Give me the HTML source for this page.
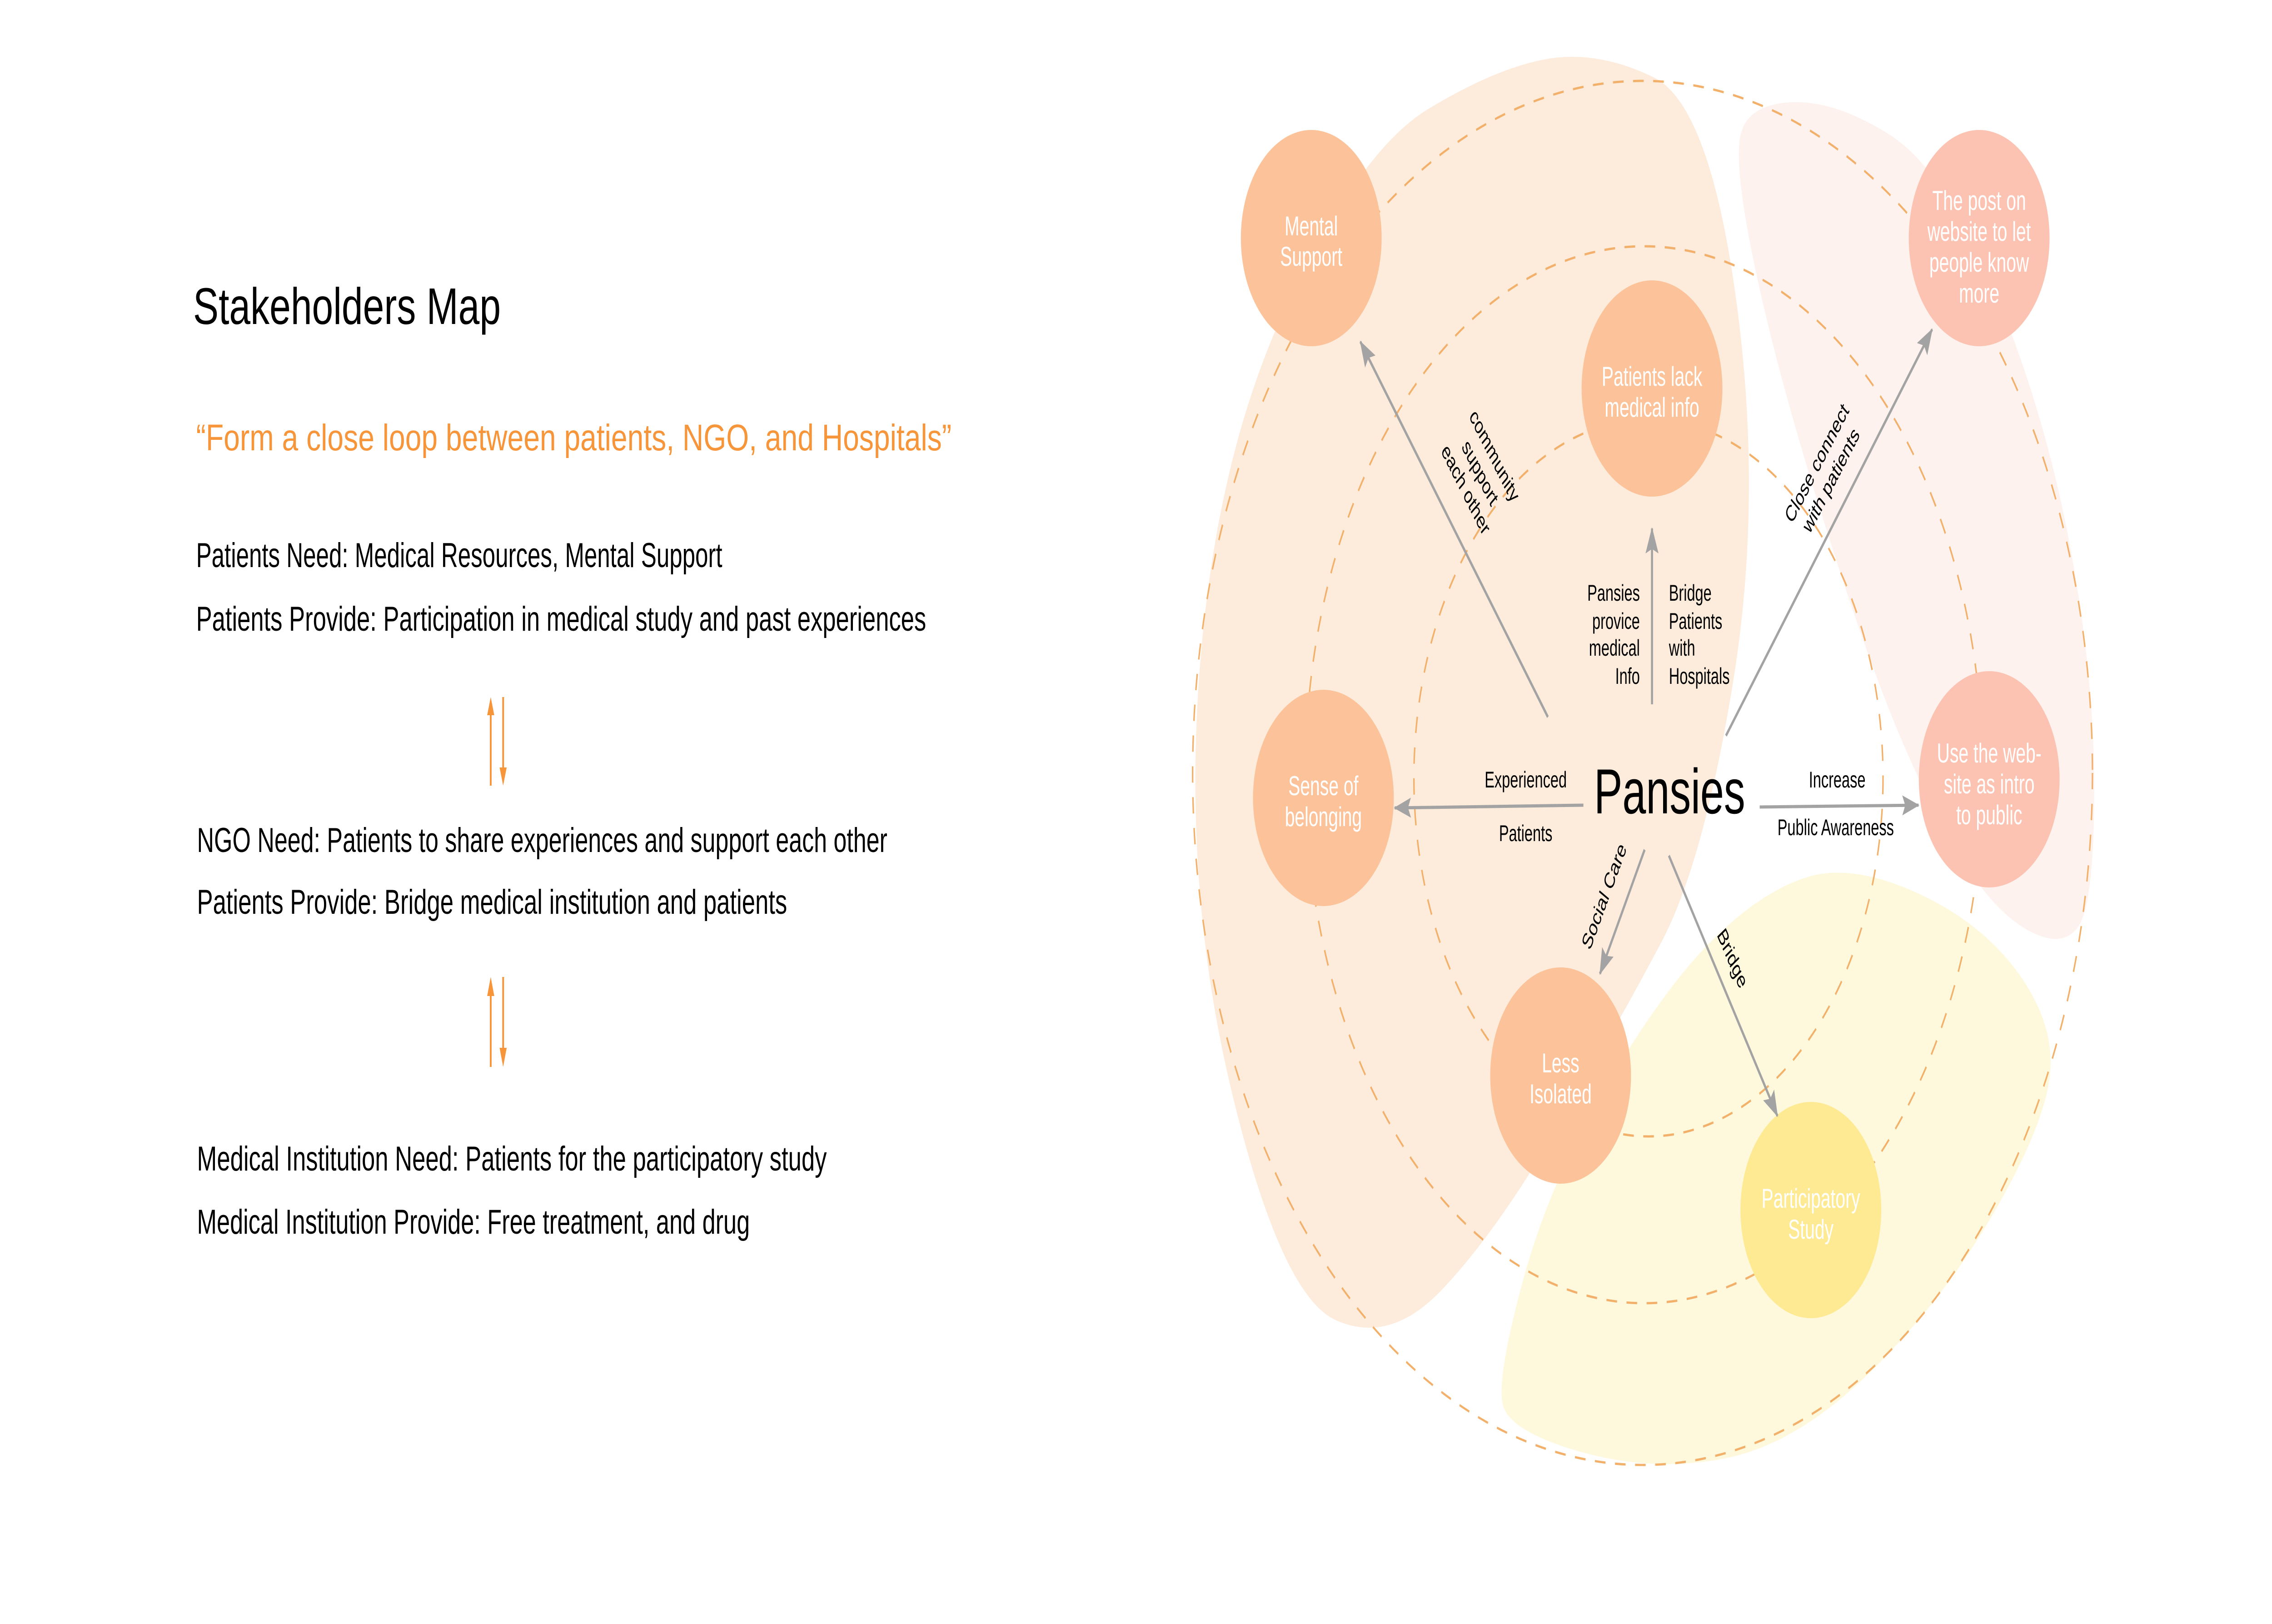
<!DOCTYPE html>
<html><head><meta charset="utf-8"><style>
html,body{margin:0;padding:0;background:#fff;overflow:hidden;width:100%;height:100%;}
svg{display:block;position:fixed;left:0;top:0;width:100vw;height:100vh;}
text{font-family:"Liberation Sans",sans-serif;}
</style></head><body>
<svg viewBox="0 0 7681 3574" preserveAspectRatio="none" xmlns="http://www.w3.org/2000/svg">
<defs>
<marker id="ga" markerUnits="userSpaceOnUse" markerWidth="60" markerHeight="50" refX="55" refY="22" orient="auto"><path d="M0,0 L58,22 L0,44 L10,22 Z" fill="#A3A3A3"/></marker>
</defs>
<rect width="7681" height="3574" fill="#fff"/>

<text x="653" y="713" font-size="113" fill="#000" textLength="1040" lengthAdjust="spacingAndGlyphs">Stakeholders Map</text>
<text x="663" y="991" font-size="82" fill="#F7953B" textLength="2554" lengthAdjust="spacingAndGlyphs">“Form a close loop between patients, NGO, and Hospitals”</text>
<g font-size="76" fill="#000">
<text x="663" y="1248" textLength="1779" lengthAdjust="spacingAndGlyphs">Patients Need: Medical Resources, Mental Support</text>
<text x="663" y="1388" textLength="2468" lengthAdjust="spacingAndGlyphs">Patients Provide: Participation in medical study and past experiences</text>
<text x="666" y="1875" textLength="2334" lengthAdjust="spacingAndGlyphs">NGO Need: Patients to share experiences and support each other</text>
<text x="666" y="2011" textLength="1995" lengthAdjust="spacingAndGlyphs">Patients Provide: Bridge medical institution and patients</text>
<text x="666" y="2576" textLength="2129" lengthAdjust="spacingAndGlyphs">Medical Institution Need: Patients for the participatory study</text>
<text x="666" y="2715" textLength="1869" lengthAdjust="spacingAndGlyphs">Medical Institution Provide: Free treatment, and drug</text>
</g>
<g stroke="#F7953B" stroke-width="6" fill="#F7953B">
<line x1="1659" y1="1729" x2="1659" y2="1570"/><path d="M1647,1574 L1659,1534 L1671,1574 Z" stroke="none"/>
<line x1="1701" y1="1534" x2="1701" y2="1693"/><path d="M1689,1689 L1701,1729 L1713,1689 Z" stroke="none"/>
<line x1="1659" y1="2348" x2="1659" y2="2188"/><path d="M1647,2192 L1659,2150 L1671,2192 Z" stroke="none"/>
<line x1="1701" y1="2150" x2="1701" y2="2310"/><path d="M1689,2306 L1701,2348 L1713,2306 Z" stroke="none"/>
</g>

<path fill="#FDEBDB" d="M 5228,130 Q 5400,110 5590,170 Q 5780,230 5870,662 Q 5960,1094 5860,1497 Q 5760,1900 5613,2078 Q 5467,2257 5262,2485 Q 5057,2713 4878,2836 Q 4700,2960 4515,2905 Q 4330,2850 4165,2405 Q 4000,1961 4055,1480 Q 4110,1000 4355,665 Q 4600,330 4828,240 Q 5057,150 5228,130 Z"/>
<path fill="#FEF2EE" d="M 5885,295 Q 5910,230 6055,225 Q 6200,220 6385,295 Q 6570,370 6740,635 Q 6910,900 6995,1191 Q 7080,1482 7080,1736 Q 7080,1990 7025,2040 Q 6970,2090 6850,2045 Q 6730,2000 6610,1867 Q 6490,1733 6380,1551 Q 6270,1368 6135,1083 Q 6000,798 5930,579 Q 5860,360 5885,295 Z"/>
<path fill="#FEF9DC" d="M 6111,1930 Q 6262,1900 6481,1965 Q 6700,2030 6825,2143 Q 6950,2257 6930,2368 Q 6910,2480 6735,2675 Q 6560,2870 6314,3025 Q 6069,3180 5828,3210 Q 5587,3240 5343,3195 Q 5100,3150 5080,3090 Q 5060,3030 5150,2815 Q 5240,2600 5435,2385 Q 5630,2170 5795,2065 Q 5960,1960 6111,1930 Z"/>

<g fill="none" stroke="#F2B06A" stroke-width="5" stroke-dasharray="36 32">
<ellipse cx="5553" cy="1701" rx="1521" ry="1523"/>
<ellipse cx="5558" cy="1705" rx="1145" ry="1163"/>
<ellipse cx="5573" cy="1712" rx="793" ry="789"/>
</g>

<g>
<circle cx="4433" cy="524" r="238" fill="#FCC39A"/>
<circle cx="5585" cy="855" r="238" fill="#FCC39A"/>
<circle cx="6691" cy="524" r="238" fill="#FDC3B2"/>
<circle cx="4474" cy="1756" r="238" fill="#FCC39A"/>
<circle cx="6725" cy="1715" r="238" fill="#FDC3B2"/>
<circle cx="5276" cy="2367" r="238" fill="#FCC39A"/>
<circle cx="6122" cy="2663" r="238" fill="#FFEA94"/>
</g>
<g font-size="60" fill="#fff" text-anchor="middle">
<text x="4433" y="518">Mental</text><text x="4433" y="585">Support</text>
<text x="5585" y="849">Patients lack</text><text x="5585" y="917">medical info</text>
<text x="6691" y="462">The post on</text><text x="6691" y="530">website to let</text><text x="6691" y="598">people know</text><text x="6691" y="666">more</text>
<text x="4474" y="1750">Sense of</text><text x="4474" y="1818">belonging</text>
<text x="6725" y="1678">Use the web-</text><text x="6725" y="1746">site as intro</text><text x="6725" y="1814">to public</text>
<text x="5276" y="2360">Less</text><text x="5276" y="2428">Isolated</text>
<text x="6122" y="2658">Participatory</text><text x="6122" y="2726">Study</text>
</g>

<g stroke="#A3A3A3" stroke-width="7" fill="none" marker-end="url(#ga)">
<line x1="5233" y1="1578" x2="4599" y2="752"/>
<line x1="5585" y1="1550" x2="5585" y2="1163"/>
<line x1="5835" y1="1619" x2="6532" y2="725"/>
<line x1="5353" y1="1772" x2="4715" y2="1778"/>
<line x1="5949" y1="1776" x2="6486" y2="1772"/>
<line x1="5560" y1="1870" x2="5409" y2="2143"/>
<line x1="5642" y1="1883" x2="6009" y2="2456"/>
</g>

<text x="5389" y="1790" font-size="140" fill="#000" textLength="511" lengthAdjust="spacingAndGlyphs">Pansies</text>

<g font-size="50" fill="#000">
<g text-anchor="end">
<text x="5544" y="1322">Pansies</text><text x="5544" y="1384">provice</text><text x="5544" y="1443">medical</text><text x="5544" y="1505">Info</text>
</g>
<text x="5642" y="1322">Bridge</text><text x="5642" y="1384">Patients</text><text x="5642" y="1443">with</text><text x="5642" y="1505">Hospitals</text>
<g text-anchor="middle">
<text x="5158" y="1733">Experienced</text><text x="5158" y="1851">Patients</text>
<text x="6211" y="1733">Increase</text><text x="6206" y="1838">Public Awareness</text>
<g transform="translate(5004,1040) rotate(52.5)">
<text x="0" y="-44">community</text><text x="0" y="17">support</text><text x="0" y="78">each other</text>
</g>
<g transform="translate(6165,1037) rotate(-52)">
<text x="0" y="-12">Close connect</text><text x="0" y="49">with patients</text>
</g>
<g transform="translate(5423,1972) rotate(-61)"><text x="0" y="17">Social Care</text></g>
<g transform="translate(5857,2109) rotate(57)"><text x="0" y="17">Bridge</text></g>
</g>
</g>
</svg>
</body></html>
